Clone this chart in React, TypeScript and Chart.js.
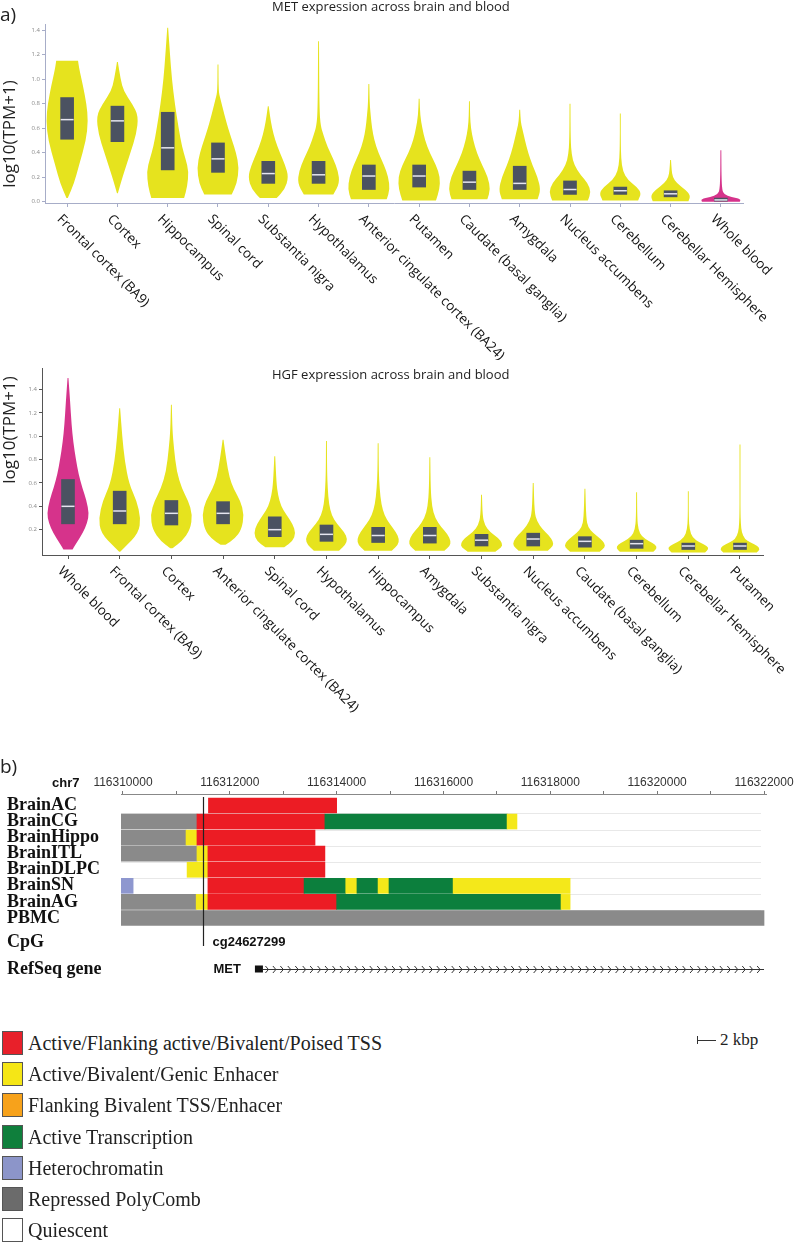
import React, { useEffect, useRef } from 'react';
import { Chart, registerables } from 'chart.js';
Chart.register(...registerables);

const SANS = '"Open Sans", "DejaVu Sans", sans-serif';
const SERIF = '"Liberation Serif", "Times New Roman", serif';
const ARIAL = '"Liberation Sans", Arial, sans-serif';

type Knot = [number, number]; // [log10(TPM+1), relative density]

// ---------------- Panel a: MET ----------------
const metTissues = ['Frontal cortex (BA9)', 'Cortex', 'Hippocampus', 'Spinal cord', 'Substantia nigra', 'Hypothalamus', 'Anterior cingulate cortex (BA24)', 'Putamen', 'Caudate (basal ganglia)', 'Amygdala', 'Nucleus accumbens', 'Cerebellum', 'Cerebellar Hemisphere', 'Whole blood'];
const metQ1 = [0.51, 0.49, 0.26, 0.24, 0.15, 0.15, 0.10, 0.12, 0.10, 0.10, 0.06, 0.06, 0.04, 0.005];
const metMedian = [0.67, 0.66, 0.44, 0.35, 0.23, 0.22, 0.21, 0.21, 0.16, 0.15, 0.10, 0.09, 0.065, 0.015];
const metQ3 = [0.85, 0.78, 0.73, 0.48, 0.33, 0.33, 0.30, 0.30, 0.25, 0.29, 0.17, 0.12, 0.09, 0.03];
const metBlood = [false, false, false, false, false, false, false, false, false, false, false, false, false, true];
const metProfiles: Knot[][] = [
  [[0.03, 0.03], [0.15, 0.33], [0.3, 0.57], [0.5, 0.9], [0.66, 1.0], [0.8, 0.92], [0.95, 0.75], [1.08, 0.58], [1.15, 0.52]],
  [[0.07, 0.0], [0.2, 0.24], [0.4, 0.62], [0.55, 0.9], [0.7, 1.0], [0.8, 0.7], [0.9, 0.3], [1.0, 0.15], [1.14, 0.01]],
  [[0.03, 0.78], [0.12, 0.93], [0.25, 1.0], [0.35, 0.85], [0.45, 0.68], [0.6, 0.52], [0.8, 0.34], [1.0, 0.2], [1.2, 0.11], [1.42, 0.0]],
  [[0.06, 0.65], [0.15, 0.9], [0.28, 1.0], [0.4, 0.86], [0.5, 0.67], [0.6, 0.48], [0.7, 0.32], [0.85, 0.1], [0.9, 0.03], [1.12, 0.02]],
  [[0.03, 0.4], [0.1, 0.78], [0.2, 0.97], [0.3, 0.8], [0.4, 0.55], [0.5, 0.33], [0.6, 0.18], [0.7, 0.08], [0.78, 0.0]],
  [[0.06, 0.7], [0.15, 1.0], [0.25, 0.93], [0.35, 0.7], [0.45, 0.42], [0.55, 0.22], [0.62, 0.1], [0.75, 0.04], [1.31, 0.02]],
  [[0.02, 0.85], [0.1, 1.0], [0.2, 0.93], [0.3, 0.72], [0.4, 0.45], [0.5, 0.26], [0.6, 0.15], [0.7, 0.09], [0.8, 0.04], [0.96, 0.01]],
  [[0.01, 0.8], [0.1, 0.97], [0.2, 1.0], [0.3, 0.8], [0.4, 0.5], [0.5, 0.28], [0.6, 0.15], [0.7, 0.05], [0.84, 0.01]],
  [[0.02, 0.85], [0.1, 1.0], [0.2, 0.88], [0.3, 0.6], [0.4, 0.35], [0.5, 0.18], [0.6, 0.07], [0.7, 0.03], [0.82, 0.01]],
  [[0.02, 0.85], [0.1, 1.0], [0.2, 0.85], [0.3, 0.6], [0.4, 0.4], [0.5, 0.25], [0.6, 0.12], [0.65, 0.05], [0.75, 0.01]],
  [[0.01, 0.85], [0.08, 1.0], [0.15, 0.85], [0.22, 0.5], [0.3, 0.2], [0.38, 0.08], [0.5, 0.03], [0.8, 0.01]],
  [[0.01, 0.85], [0.07, 1.0], [0.12, 0.8], [0.18, 0.35], [0.25, 0.12], [0.35, 0.04], [0.5, 0.02], [0.72, 0.01]],
  [[0.005, 0.85], [0.05, 0.95], [0.1, 0.7], [0.15, 0.3], [0.2, 0.1], [0.26, 0.05], [0.34, 0.01]],
  [[0.0, 0.9], [0.02, 0.95], [0.04, 0.5], [0.06, 0.15], [0.1, 0.06], [0.2, 0.03], [0.42, 0.01]],
];

// ---------------- Panel a: HGF ----------------
const hgfTissues = ['Whole blood', 'Frontal cortex (BA9)', 'Cortex', 'Anterior cingulate cortex (BA24)', 'Spinal cord', 'Hypothalamus', 'Hippocampus', 'Amygdala', 'Substantia nigra', 'Nucleus accumbens', 'Caudate (basal ganglia)', 'Cerebellum', 'Cerebellar Hemisphere', 'Putamen'];
const hgfQ1 = [0.25, 0.25, 0.24, 0.25, 0.14, 0.10, 0.09, 0.085, 0.06, 0.06, 0.05, 0.04, 0.03, 0.03];
const hgfMedian = [0.40, 0.36, 0.34, 0.34, 0.20, 0.16, 0.15, 0.15, 0.11, 0.12, 0.10, 0.08, 0.06, 0.06];
const hgfQ3 = [0.63, 0.53, 0.45, 0.44, 0.31, 0.24, 0.22, 0.22, 0.16, 0.17, 0.14, 0.11, 0.085, 0.085];
const hgfBlood = [true, false, false, false, false, false, false, false, false, false, false, false, false, false];
const hgfProfiles: Knot[][] = [
  [[0.03, 0.22], [0.08, 0.38], [0.17, 0.7], [0.26, 0.92], [0.34, 1.0], [0.45, 0.88], [0.56, 0.68], [0.68, 0.5], [0.8, 0.38], [0.95, 0.25], [1.1, 0.17], [1.3, 0.1], [1.5, 0.0]],
  [[0.01, 0.0], [0.05, 0.24], [0.17, 0.9], [0.3, 1.0], [0.45, 0.8], [0.59, 0.45], [0.79, 0.24], [1.0, 0.12], [1.24, 0.01]],
  [[0.04, 0.05], [0.1, 0.5], [0.2, 0.9], [0.33, 1.0], [0.45, 0.8], [0.55, 0.5], [0.7, 0.25], [0.9, 0.12], [1.05, 0.05], [1.27, 0.01]],
  [[0.07, 0.1], [0.12, 0.55], [0.2, 0.88], [0.33, 1.0], [0.45, 0.82], [0.55, 0.5], [0.65, 0.3], [0.8, 0.15], [0.97, 0.01]],
  [[0.05, 0.45], [0.1, 0.85], [0.17, 1.0], [0.25, 0.85], [0.33, 0.55], [0.4, 0.3], [0.5, 0.15], [0.6, 0.08], [0.83, 0.01]],
  [[0.02, 0.6], [0.07, 0.9], [0.12, 1.0], [0.18, 0.85], [0.25, 0.5], [0.32, 0.25], [0.42, 0.12], [0.55, 0.06], [0.7, 0.03], [0.96, 0.01]],
  [[0.02, 0.65], [0.07, 0.95], [0.12, 1.0], [0.18, 0.85], [0.25, 0.55], [0.32, 0.3], [0.42, 0.15], [0.55, 0.07], [0.7, 0.03], [0.94, 0.005]],
  [[0.02, 0.7], [0.06, 0.95], [0.1, 1.0], [0.16, 0.85], [0.22, 0.55], [0.3, 0.25], [0.4, 0.1], [0.55, 0.04], [0.82, 0.01]],
  [[0.01, 0.65], [0.05, 0.95], [0.08, 1.0], [0.13, 0.8], [0.18, 0.4], [0.24, 0.15], [0.32, 0.05], [0.5, 0.01]],
  [[0.02, 0.7], [0.06, 0.95], [0.1, 0.95], [0.15, 0.75], [0.2, 0.45], [0.27, 0.18], [0.35, 0.06], [0.6, 0.01]],
  [[0.01, 0.7], [0.05, 0.95], [0.08, 0.95], [0.12, 0.75], [0.17, 0.4], [0.22, 0.15], [0.3, 0.06], [0.55, 0.01]],
  [[0.01, 0.8], [0.04, 0.97], [0.07, 0.9], [0.1, 0.6], [0.14, 0.25], [0.2, 0.08], [0.3, 0.03], [0.52, 0.01]],
  [[0.005, 0.8], [0.035, 0.97], [0.06, 0.9], [0.09, 0.55], [0.13, 0.2], [0.2, 0.06], [0.3, 0.02], [0.53, 0.01]],
  [[0.005, 0.8], [0.03, 0.95], [0.06, 0.85], [0.09, 0.5], [0.12, 0.22], [0.18, 0.08], [0.25, 0.04], [0.36, 0.02], [0.6, 0.01], [0.93, 0.005]],
];

const metYTicks = [0, 0.2, 0.4, 0.6, 0.8, 1.0, 1.2, 1.4];
const hgfYTicks = [0.2, 0.4, 0.6, 0.8, 1.0, 1.2, 1.4];

// ---------------- Panel b: chromatin states ----------------
const trackNames = ['BrainAC', 'BrainCG', 'BrainHippo', 'BrainITL', 'BrainDLPC', 'BrainSN', 'BrainAG', 'PBMC'];
const stateNames = ['Active/Flanking active/Bivalent/Poised TSS', 'Active/Bivalent/Genic Enhacer', 'Flanking Bivalent TSS/Enhacer', 'Active Transcription', 'Heterochromatin', 'Repressed PolyComb', 'Quiescent'];
const trackStateColors = ['#ec1c24', '#f4e81a', '#f7a01e', '#0c7f3d', '#8e97cf', '#8a8a8a', '#ffffff'];
const legendStateColors = ['#e8202a', '#f5e616', '#f7a21b', '#0f7f3c', '#8c95c9', '#6b6b6b', '#ffffff'];
// [track index, start bp, end bp, state index]
const segments: [number, number, number, number][] = [
  [0, 116311600, 116314000, 0],
  [1, 116309960, 116311385, 5], [1, 116311385, 116313780, 0], [1, 116313780, 116317190, 3], [1, 116317190, 116317375, 1],
  [2, 116309960, 116311180, 5], [2, 116311180, 116311385, 1], [2, 116311385, 116313595, 0],
  [3, 116309960, 116311385, 5], [3, 116311385, 116311590, 1], [3, 116311590, 116313780, 0],
  [4, 116311200, 116311590, 1], [4, 116311590, 116313780, 0],
  [5, 116309960, 116310190, 4], [5, 116311590, 116313390, 0], [5, 116313390, 116314170, 3], [5, 116314170, 116314380, 1],
  [5, 116314380, 116314775, 3], [5, 116314775, 116314980, 1], [5, 116314980, 116316180, 3], [5, 116316180, 116318370, 1],
  [6, 116309960, 116311370, 5], [6, 116311370, 116311590, 1], [6, 116311590, 116314000, 0], [6, 116314000, 116318200, 3], [6, 116318200, 116318370, 1],
  [7, 116309960, 116322000, 5],
];
const genomeTicks = [116310000, 116311000, 116312000, 116313000, 116314000, 116315000, 116316000, 116317000, 116318000, 116319000, 116320000, 116321000, 116322000];
const cpgName = 'cg24627299';
const cpgPos = 116311490;
const geneName = 'MET';
const geneStart = 116312470;
const geneExonEnd = 116312620;
const geneEnd = 116322000;

// ---------------- helpers ----------------
function smoothClosed(ctx: CanvasRenderingContext2D, pts: number[][]) {
  const n = pts.length;
  const mid = (a: number[], b: number[]) => [(a[0] + b[0]) / 2, (a[1] + b[1]) / 2];
  const s = mid(pts[n - 1], pts[0]);
  ctx.beginPath();
  ctx.moveTo(s[0], s[1]);
  for (let i = 0; i < n; i++) {
    const p = pts[i];
    const m = mid(p, pts[(i + 1) % n]);
    ctx.quadraticCurveTo(p[0], p[1], m[0], m[1]);
  }
  ctx.closePath();
}

interface ViolinSpec {
  tissues: string[]; q1: number[]; median: number[]; q3: number[]; profiles: Knot[][]; blood: boolean[];
  canvasH: number; chartTop: number; chartBottom: number; yAxisW: number; chartRight: number;
  yMin: number; yMax: number; yTicks: number[]; xMin: number; xMax: number; axisColor: string; tickLen: number;
}

function ViolinChart({ spec, top }: { spec: ViolinSpec; top: number }) {
  const ref = useRef<HTMLCanvasElement>(null);
  useEffect(() => {
    const s = spec;
    const HALF = 21;
    const violinPlugin = {
      id: 'violins',
      beforeDatasetsDraw(chart: any) {
        const { ctx } = chart;
        const xs = chart.scales.x, ys = chart.scales.y;
        ctx.save();
        s.profiles.forEach((prof, i) => {
          const cx = xs.getPixelForValue(i);
          const w = (d: number) => Math.max(d * HALF, 0.45);
          const right = prof.map(([v, d]) => [cx + w(d), ys.getPixelForValue(v)]);
          const left = prof.slice().reverse().map(([v, d]) => [cx - w(d), ys.getPixelForValue(v)]);
          const pts = [right[0], ...right, right[right.length - 1], left[0], ...left, left[left.length - 1]];
          smoothClosed(ctx, pts);
          ctx.fillStyle = s.blood[i] ? '#d6338b' : '#e6e31e';
          ctx.fill();
        });
        ctx.restore();
      },
    };
    const labelPlugin = {
      id: 'xlabels',
      afterDraw(chart: any) {
        const { ctx } = chart;
        const xs = chart.scales.x;
        ctx.save();
        ctx.font = `13.5px ${SANS}`;
        ctx.fillStyle = '#111';
        ctx.textAlign = 'left';
        ctx.textBaseline = 'middle';
        s.tissues.forEach((t, i) => {
          const px = xs.getPixelForValue(i);
          ctx.save();
          ctx.translate(px - 8, xs.top + 14);
          ctx.rotate(Math.PI / 4);
          ctx.fillText(t, 0, 0);
          ctx.restore();
        });
        ctx.restore();
      },
    };
    const chart = new Chart(ref.current as HTMLCanvasElement, {
      type: 'bar',
      data: {
        datasets: [
          {
            type: 'bar',
            order: 2,
            data: s.tissues.map((_, i) => ({ x: i, y: [s.q1[i], s.q3[i]] })),
            backgroundColor: '#4b5261',
            barThickness: 13,
            borderWidth: 0,
          } as any,
          {
            type: 'line',
            order: 1,
            data: s.median.map((m, i) => ({ x: i, y: m })),
            showLine: false,
            pointStyle: 'line',
            pointRadius: 6.5,
            pointBorderColor: '#e6e6f0',
            pointBackgroundColor: '#e6e6f0',
            pointBorderWidth: 1.5,
          } as any,
        ],
      },
      options: {
        responsive: false,
        animation: false,
        events: [],
        layout: { padding: { top: s.chartTop, right: 800 - s.chartRight, left: 0, bottom: 0 } },
        plugins: { legend: { display: false }, tooltip: { enabled: false } },
        scales: {
          x: {
            type: 'linear', min: s.xMin, max: s.xMax, offset: false,
            afterBuildTicks: (sc: any) => { sc.ticks = s.tissues.map((_, i) => ({ value: i })); },
            afterFit: (sc: any) => { sc.height = s.canvasH - s.chartBottom; },
            ticks: { display: false },
            grid: { offset: false, drawOnChartArea: false, drawTicks: true, tickLength: s.tickLen, color: s.axisColor },
            border: { display: true, color: s.axisColor, width: 1 },
          },
          y: {
            type: 'linear', min: s.yMin, max: s.yMax,
            afterBuildTicks: (sc: any) => { sc.ticks = s.yTicks.map((v) => ({ value: v })); },
            afterFit: (sc: any) => { sc.width = s.yAxisW; },
            ticks: { font: { size: 6, family: SANS }, color: '#888', padding: 2, callback: (v: any) => Number(v).toFixed(1) },
            grid: { drawOnChartArea: false, drawTicks: true, tickLength: 3, color: s.axisColor },
            border: { display: true, color: s.axisColor, width: 1 },
          },
        },
      } as any,
      plugins: [violinPlugin, labelPlugin],
    });
    return () => chart.destroy();
  }, []);
  return <canvas ref={ref} width={800} height={spec.canvasH} style={{ position: 'absolute', left: 0, top }} />;
}

function GenomeChart({ top }: { top: number }) {
  const ref = useRef<HTMLCanvasElement>(null);
  useEffect(() => {
    const extras = {
      id: 'genomeExtras',
      beforeDatasetsDraw(chart: any) {
        const { ctx, chartArea } = chart;
        const ys = chart.scales.y;
        ctx.save();
        ctx.strokeStyle = '#e8e8e8';
        ctx.lineWidth = 1;
        for (let k = 0; k < trackNames.length - 1; k++) {
          const y = Math.round(ys.getPixelForValue(k) + 8) + 0.5;
          ctx.beginPath();
          ctx.moveTo(chartArea.left, y);
          ctx.lineTo(chartArea.right - 5, y);
          ctx.stroke();
        }
        ctx.restore();
      },
      afterDatasetsDraw(chart: any) {
        const { ctx, chartArea } = chart;
        const xs = chart.scales.x;
        ctx.save();
        const cpgY = chartArea.bottom + 16;
        const geneY = chartArea.bottom + 43;
        // CpG marker line
        const cx = Math.round(xs.getPixelForValue(cpgPos)) + 0.5;
        ctx.strokeStyle = '#222';
        ctx.lineWidth = 1.2;
        ctx.beginPath();
        ctx.moveTo(cx, chartArea.top + 3);
        ctx.lineTo(cx, cpgY + 4);
        ctx.stroke();
        // labels of extra tracks
        ctx.fillStyle = '#111';
        ctx.textBaseline = 'middle';
        ctx.textAlign = 'left';
        ctx.font = `bold 18px ${SERIF}`;
        ctx.fillText('CpG', 7, cpgY);
        ctx.fillText('RefSeq gene', 7, geneY);
        ctx.font = `bold 13px ${ARIAL}`;
        ctx.fillText(cpgName, cx + 9, cpgY);
        const gs = xs.getPixelForValue(geneStart);
        const ge = xs.getPixelForValue(geneExonEnd);
        const gend = xs.getPixelForValue(geneEnd);
        ctx.textAlign = 'right';
        ctx.fillText(geneName, gs - 14, geneY);
        // gene model
        ctx.fillStyle = '#111';
        ctx.fillRect(gs, geneY - 3.5, ge - gs, 7);
        ctx.strokeStyle = '#333';
        ctx.lineWidth = 1;
        ctx.beginPath();
        ctx.moveTo(ge, geneY + 0.5);
        ctx.lineTo(gend, geneY + 0.5);
        ctx.stroke();
        ctx.beginPath();
        for (let x = ge + 5; x <= gend; x += 7.45) {
          ctx.moveTo(x - 2.5, geneY - 3);
          ctx.lineTo(x + 0.5, geneY + 0.5);
          ctx.lineTo(x - 2.5, geneY + 4);
        }
        ctx.stroke();
        ctx.restore();
      },
    };
    const chart = new Chart(ref.current as HTMLCanvasElement, {
      type: 'bar',
      data: {
        datasets: [
          {
            data: segments.map(([t, s, e]) => ({ y: t, x: [s, e] })),
            backgroundColor: segments.map((sg) => trackStateColors[sg[3]]),
            barThickness: 15,
            borderWidth: 0,
          } as any,
        ],
      },
      options: {
        indexAxis: 'y',
        responsive: false,
        animation: false,
        events: [],
        layout: { padding: { top: 0, left: 7, right: 34, bottom: 74 } },
        plugins: { legend: { display: false }, tooltip: { enabled: false } },
        scales: {
          x: {
            type: 'linear', position: 'top', min: 116309963, max: 116322037, offset: false,
            afterBuildTicks: (sc: any) => { sc.ticks = genomeTicks.map((v) => ({ value: v })); },
            afterFit: (sc: any) => { sc.height = 34; },
            ticks: {
              autoSkip: false, maxRotation: 0, padding: 1, color: '#333',
              font: { size: 12, family: ARIAL },
              callback: (v: any) => (Number(v) % 2000 === 0 ? String(v) : ''),
            },
            grid: { offset: false, drawOnChartArea: false, drawTicks: true, tickLength: 3, color: '#777' },
            border: { display: true, color: '#888', width: 1 },
          },
          y: {
            type: 'linear', reverse: true, min: -0.714, max: 7.5, offset: false,
            afterBuildTicks: (sc: any) => { sc.ticks = trackNames.map((_, i) => ({ value: i })); },
            afterFit: (sc: any) => { sc.width = 114; },
            ticks: {
              autoSkip: false, crossAlign: 'far', color: '#111',
              font: { size: 18, weight: 'bold', family: SERIF, lineHeight: 1 },
              callback: (v: any) => trackNames[Number(v)],
            },
            grid: { display: false, offset: false },
            border: { display: false },
          },
        },
      } as any,
      plugins: [extras],
    });
    return () => chart.destroy();
  }, []);
  return <canvas ref={ref} width={800} height={240} style={{ position: 'absolute', left: 0, top }} />;
}

const metSpec: ViolinSpec = {
  tissues: metTissues, q1: metQ1, median: metMedian, q3: metQ3, profiles: metProfiles, blood: metBlood,
  canvasH: 360, chartTop: 24, chartBottom: 203, yAxisW: 45, chartRight: 743,
  yMin: -0.01, yMax: 1.45, yTicks: metYTicks, xMin: -0.44, xMax: 13.44, axisColor: '#a7adc8', tickLen: 4,
};
const hgfSpec: ViolinSpec = {
  tissues: hgfTissues, q1: hgfQ1, median: hgfMedian, q3: hgfQ3, profiles: hgfProfiles, blood: hgfBlood,
  canvasH: 400, chartTop: 6, chartBottom: 195, yAxisW: 42, chartRight: 763,
  yMin: -0.017, yMax: 1.585, yTicks: hgfYTicks, xMin: -0.503, xMax: 13.445, axisColor: '#555', tickLen: 4,
};

function Txt({ x, cy, size, children, family = SANS, weight = 'normal', color = '#222' }: any) {
  return (
    <div style={{ position: 'absolute', left: x, top: cy - size * 0.6, fontSize: size, lineHeight: `${size * 1.2}px`, fontFamily: family, fontWeight: weight, color, whiteSpace: 'nowrap' }}>
      {children}
    </div>
  );
}

function VLabel({ x, cy, size, children }: any) {
  return (
    <div style={{ position: 'absolute', left: x, top: cy, fontSize: size, lineHeight: 1, fontFamily: SANS, color: '#222', whiteSpace: 'nowrap', transform: 'translate(-50%, -50%) rotate(-90deg)' }}>
      {children}
    </div>
  );
}

export default function App() {
  return (
    <div style={{ position: 'absolute', left: 0, top: 0, width: 800, height: 1243, background: '#fff', overflow: 'hidden' }}>
      <ViolinChart spec={metSpec} top={0} />
      <ViolinChart spec={hgfSpec} top={360} />
      <GenomeChart top={760} />
      <Txt x={0} cy={14} size={19}>a)</Txt>
      <Txt x={272} cy={7} size={13}>MET expression across brain and blood</Txt>
      <VLabel x={8} cy={134} size={17}>log10(TPM+1)</VLabel>
      <Txt x={272} cy={375} size={13}>HGF expression across brain and blood</Txt>
      <VLabel x={8} cy={430} size={17}>log10(TPM+1)</VLabel>
      <Txt x={0} cy={766} size={19}>b)</Txt>
      <Txt x={52} cy={783} size={13} family={ARIAL} weight="bold" color="#111">chr7</Txt>
      {stateNames.map((n, i) => (
        <React.Fragment key={n}>
          <div style={{ position: 'absolute', left: 2, top: 1031 + i * 31.2, width: 21, height: 24, background: legendStateColors[i], border: '1px solid #555', boxSizing: 'border-box' }} />
          <Txt x={28} cy={1043 + i * 31.2} size={20} family={SERIF} color="#222">{n}</Txt>
        </React.Fragment>
      ))}
      <div style={{ position: 'absolute', left: 697, top: 1036, width: 19, height: 8 }}>
        <div style={{ position: 'absolute', left: 0, top: 0, width: 1, height: 8, background: '#333' }} />
        <div style={{ position: 'absolute', left: 0, top: 4, width: 19, height: 1, background: '#333' }} />
      </div>
      <Txt x={720} cy={1040} size={17} family={SERIF} color="#222">2 kbp</Txt>
    </div>
  );
}
